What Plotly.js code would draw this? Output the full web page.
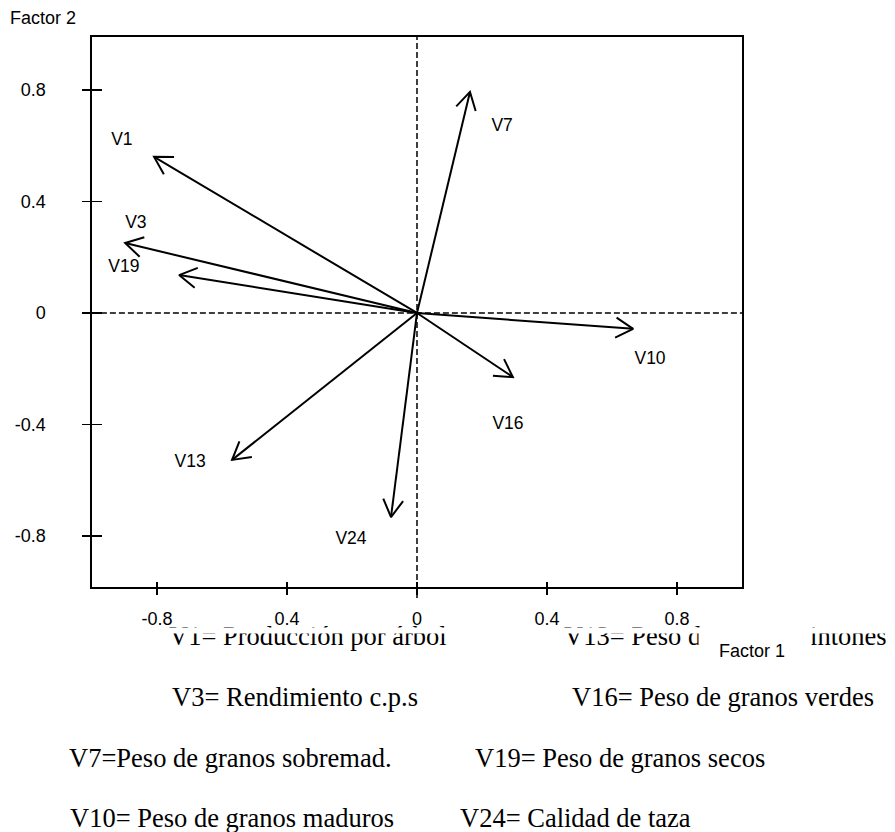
<!DOCTYPE html>
<html><head><meta charset="utf-8">
<script src="https://cdn.plot.ly/plotly-3.0.1.min.js"></script>
<style>html,body{margin:0;padding:0;background:#fff}</style>
</head><body><div id="chart" style="width:895px;height:832px"></div>
<script>
// ---- data ----
const variables = ['V1','V3','V19','V7','V10','V16','V13','V24'];
const factor1   = [-0.809,-0.898,-0.732, 0.163, 0.665, 0.295,-0.569,-0.080];
const factor2   = [ 0.560, 0.251, 0.136, 0.793,-0.057,-0.230,-0.527,-0.732];
// label placement (data units)
const labelX = [-0.908,-0.865,-0.902, 0.262, 0.717, 0.280,-0.698,-0.203];
const labelY = [ 0.617, 0.319, 0.161, 0.667,-0.169,-0.402,-0.538,-0.814];
const xTickVals = [-0.8,-0.4,0,0.4,0.8];
const xTickText = ['-0.8','0.4','0','0.4','0.8'];
const yTickVals = [-0.8,-0.4,0,0.4,0.8];
const yTickText = ['-0.8','-0.4','0','0.4','0.8'];
const legendLeft  = ['V1= Producción por árbol','V3= Rendimiento c.p.s','V7=Peso de granos sobremad.','V10= Peso de granos maduros'];
const legendRight = ['V13= Peso de granos pintones','V16= Peso de granos verdes','V19= Peso de granos secos','V24= Calidad de taza'];
const xTitle = 'Factor 1';
const yTitle = 'Factor 2';

// ---- layout helpers (pixel placement of free text) ----
const W = 895, H = 832, M = {l:92, r:153, t:37, b:245};
const PW = W - M.l - M.r, PH = H - M.t - M.b;
const px = v => (v - M.l) / PW;
const py = v => (H - M.b - v) / PH;
const legLeftX  = [167,170,67,68];
const legRightX = [562,570,473,458];
const legY      = [635.5,696.5,757.5,818];

const serif = 'Liberation Serif, Times New Roman, serif';
const sans  = 'Liberation Sans, Arial, sans-serif';

// shafts
const sx = [], sy = [];
factor1.forEach((v,i) => { sx.push(0, v, null); sy.push(0, factor2[i], null); });

const traces = [
  {type:'scatter', mode:'lines', x:sx, y:sy, line:{color:'#000', width:2}, hoverinfo:'skip', cliponaxis:false},
  {type:'scatter', mode:'text', x:labelX, y:labelY, text:variables,
   textfont:{family:sans, size:17.5, color:'#000'}, hoverinfo:'skip', cliponaxis:false}
];

const annotations = [];
legendLeft.forEach((t,i) => annotations.push({xref:'paper', yref:'paper', x:px(legLeftX[i]), y:py(legY[i]),
  xanchor:'left', yanchor:'middle', text:t, showarrow:false, font:{family:serif, size:26.5, color:'#000'}}));
legendRight.forEach((t,i) => annotations.push({xref:'paper', yref:'paper', x:px(legRightX[i]), y:py(legY[i]),
  xanchor:'left', yanchor:'middle', text:t, showarrow:false, font:{family:serif, size:26.5, color:'#000'}}));
// white masks seen in the original figure
annotations.push({xref:'paper', yref:'paper', x:px(150), y:py(627), xanchor:'left', yanchor:'top',
  text:'\u00a0', showarrow:false, width:745, height:5, bgcolor:'#fff', borderpad:0, font:{size:3}});
annotations.push({xref:'paper', yref:'paper', x:px(698), y:py(627), xanchor:'left', yanchor:'top',
  text:'\u00a0', showarrow:false, width:112, height:40, bgcolor:'#fff', borderpad:0, font:{size:3}});
annotations.push({xref:'paper', yref:'paper', x:px(752), y:py(651), xanchor:'center', yanchor:'middle',
  text:xTitle, showarrow:false, font:{family:sans, size:18, color:'#000'}});
annotations.push({xref:'paper', yref:'paper', x:px(43), y:py(18), xanchor:'center', yanchor:'middle',
  text:yTitle, showarrow:false, font:{family:sans, size:18, color:'#000'}});

const axisCommon = {showgrid:false, zeroline:false, showline:true, linewidth:1.7, linecolor:'#000', mirror:true,
  tickmode:'array', ticks:'outside', tickwidth:1.7, tickcolor:'#000', fixedrange:true,
  tickfont:{family:sans, size:18, color:'#000'}};

const layout = {
  width:W, height:H, margin:M, paper_bgcolor:'#fff', plot_bgcolor:'#fff', showlegend:false,
  xaxis: Object.assign({}, axisCommon, {range:[-1,1], tickvals:xTickVals, ticktext:xTickText, ticklen:6,
    ticklabelstandoff:9,
    minor:{tickmode:'array', tickvals:xTickVals.map(v=>v+1e-7), ticks:'inside', ticklen:5, tickwidth:1.7, tickcolor:'#000', showgrid:false}}),
  yaxis: Object.assign({}, axisCommon, {range:[-0.983,0.99], tickvals:yTickVals, ticktext:yTickText, ticklen:8,
    ticklabelstandoff:33,
    minor:{tickmode:'array', tickvals:yTickVals.map(v=>v+1e-7), ticks:'inside', ticklen:10, tickwidth:1.7, tickcolor:'#000', showgrid:false}}),
  shapes: [
    {type:'line', xref:'x', yref:'paper', x0:0, x1:0, y0:-0.02, y1:1, layer:'below', line:{color:'#000', width:1.5, dash:'6px,3px'}},
    {type:'line', xref:'paper', yref:'y', x0:-0.014, x1:1, y0:0, y1:0, layer:'below', line:{color:'#000', width:1.5, dash:'6px,3px'}}
  ],
  annotations: annotations
};

Plotly.newPlot('chart', traces, layout, {displayModeBar:false, staticPlot:true}).then(gd => {
  const xa = gd._fullLayout.xaxis, ya = gd._fullLayout.yaxis;
  const ox = xa.l2p(0), oy = ya.l2p(0);
  const L = 20, half = 30 * Math.PI / 180;
  const bx = [], by = [];
  factor1.forEach((v,i) => {
    const tx = xa.l2p(v), ty = ya.l2p(factor2[i]);
    const ang = Math.atan2(oy - ty, ox - tx);
    const p1x = tx + L*Math.cos(ang+half), p1y = ty + L*Math.sin(ang+half);
    const p2x = tx + L*Math.cos(ang-half), p2y = ty + L*Math.sin(ang-half);
    bx.push(xa.p2l(p1x), v, xa.p2l(p2x), null);
    by.push(ya.p2l(p1y), factor2[i], ya.p2l(p2y), null);
  });
  return Plotly.addTraces(gd, {type:'scatter', mode:'lines', x:bx, y:by, line:{color:'#000', width:2}, hoverinfo:'skip', cliponaxis:false});
});
</script>
</body></html>
